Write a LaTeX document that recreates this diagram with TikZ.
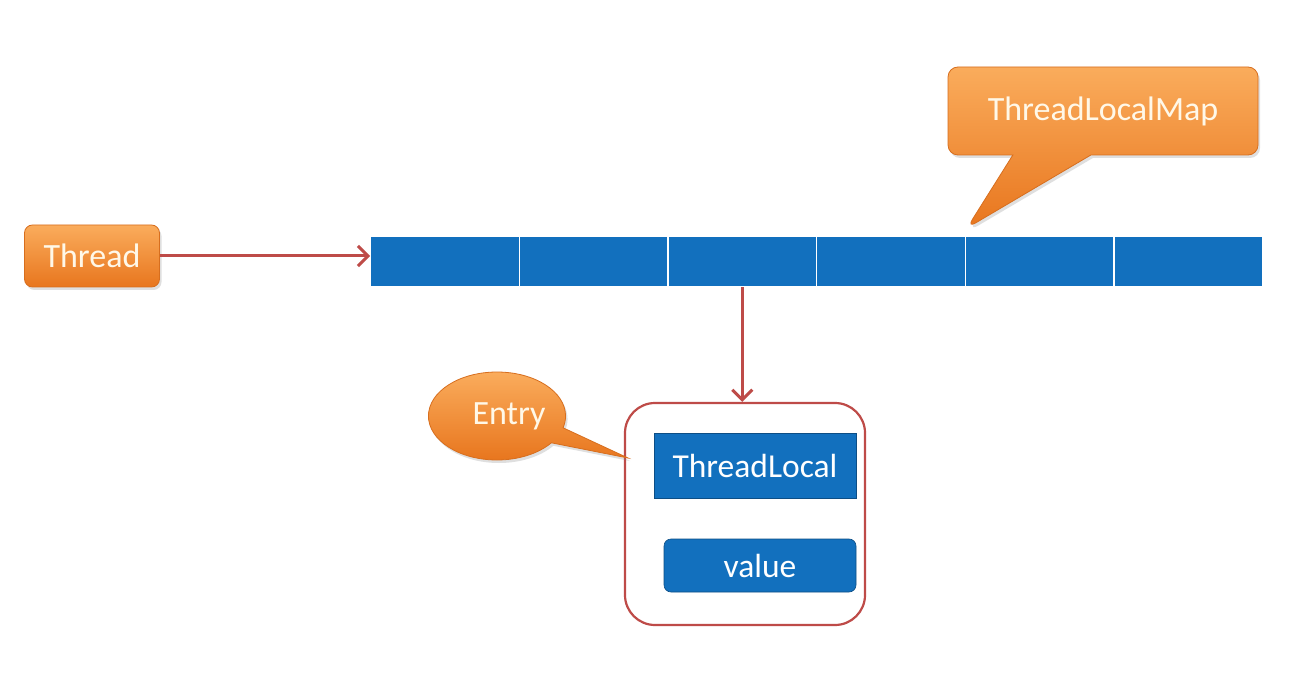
\documentclass[tikz,border=0pt]{standalone}
\usepackage{fontspec}
\setmainfont{Carlito}
\usetikzlibrary{shapes.callouts,shapes.geometric,arrows.meta,shadows}
\definecolor{cellblue}{RGB}{18,112,190}
\definecolor{arrowred}{RGB}{190,75,72}
\definecolor{orangetop}{RGB}{250,172,92}
\definecolor{orangebot}{RGB}{232,118,30}
\definecolor{orangeedge}{RGB}{215,110,30}
\definecolor{txtcream}{RGB}{255,248,232}
\tikzset{
  orangefill/.style={top color=orangetop, bottom color=orangebot, draw=orangeedge, line width=0.8pt,
    drop shadow={opacity=0.25, shadow xshift=2pt, shadow yshift=-3pt}},
  lbl/.style={font=\fontsize{34}{40}\selectfont, text=txtcream},
  cell/.style={fill=cellblue, draw=white, line width=1.2pt, minimum width=148.67pt, minimum height=50pt, inner sep=0pt, anchor=north west},
  conn/.style={draw=arrowred, line width=3pt, -{Straight Barb[length=10pt,width=20pt,line width=3pt]}},
  bluebox/.style={fill=cellblue, draw=cellblue!70!black, line width=0.6pt, inner sep=0pt, font=\fontsize{33.5}{40}\selectfont, text=white}
}
\begin{document}
\begin{tikzpicture}[x=1pt,y=-1pt]
\useasboundingbox[fill=white] (0,0) rectangle (1316,700);
% Thread box
\node[orangefill, lbl, rounded corners=8pt, minimum width=135pt, minimum height=62pt, inner sep=0pt] (thread) at (92,256) {Thread};
% array cells
\foreach \i in {1,...,6}{
  \node[cell] (c\i) at ({370+148.67*(\i-1)},236) {};
}
% ThreadLocalMap callout
\coordinate (maptip) at (967,228);
\node[rectangle callout, callout absolute pointer=(maptip), callout pointer width=78pt, orangefill, lbl, rounded corners=10pt, minimum width=310pt, minimum height=88pt, inner sep=0pt] (map) at (1103,111) {ThreadLocalMap};
% Entry box
\node[draw=arrowred, line width=2.2pt, fill=white, rounded corners=30pt, minimum width=240pt, minimum height=222pt, inner sep=0pt] (entry) at (745,514) {};
\node[bluebox, minimum width=202pt, minimum height=65pt] (tl) at (755,465.5) {ThreadLocal};
\node[bluebox, rounded corners=7pt, minimum width=192pt, minimum height=53pt] (val) at (760,565.5) {value};
% Entry callout
\coordinate (entrytip) at (628,458);
\node[ellipse callout, callout absolute pointer=(entrytip), callout pointer arc=22, orangefill, lbl, minimum width=128pt, minimum height=88pt, inner sep=0pt] (entrylbl) at (497,416) {\hspace*{24pt}Entry};
% connectors
\draw[conn] (thread.east) -- (thread.east -| c1.west);
\draw[conn] (c3.south) -- (c3.south |- entry.north);
\end{tikzpicture}
\end{document}
